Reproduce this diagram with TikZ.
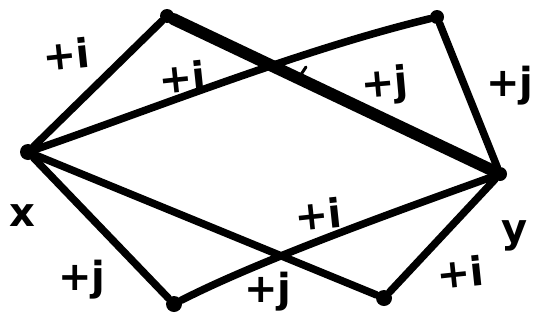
\documentclass[tikz,border=0pt]{standalone}
\usepackage{fontspec}
\setmainfont{DejaVu Sans}
\begin{document}
\begin{tikzpicture}[x=1pt,y=-1pt,
  dot/.style={circle,fill=black,inner sep=0pt,minimum size=16pt},
  edge/.style={line width=7.5pt,line cap=round},
  thickedge/.style={line width=12pt,line cap=round},
  lbl/.style={font=\bfseries\fontsize{40}{40}\selectfont,inner sep=0pt}]
\useasboundingbox (0,0) rectangle (538,335);
\node[dot] (x) at (28,152) {};
\node[dot,minimum size=14pt] (tl) at (167,16) {};
\node[dot,minimum size=14pt] (tr) at (437,17) {};
\node[dot,minimum size=14pt] (y) at (500,174) {};
\node[dot] (bl) at (174,304) {};
\node[dot] (br) at (384,298) {};
% edges
\draw[edge] (x) -- (tl);
\draw[thickedge] (tl) -- (y);
\draw[edge] (x) .. controls (150,110) and (300,50) .. (tr);
\draw[edge] (tr) -- (y);
\draw[edge] (x) -- (bl);
\draw[edge] (x) -- (br);
\draw[edge] (bl) .. controls (260,260) and (400,210) .. (y);
\draw[edge] (br) -- (y);
% small hook
\draw[line width=3pt,line cap=round,line join=round] (306,67) -- (300,76) -- (320,86);
% labels
\node[lbl,rotate=6] (l1) at (66,54) {+i};
\node[lbl,rotate=6] (l2) at (182,77) {+i};
\node[lbl,rotate=5] (l3) at (385,86) {+j};
\node[lbl] (l4) at (510,86) {+j};
\node[lbl] (l5) at (82,280) {+j};
\node[lbl] (l6) at (268,292) {+j};
\node[lbl,rotate=6] (l7) at (318,214) {+i};
\node[lbl,rotate=6] (l8) at (460,272) {+i};
\node[lbl] (lx) at (22,216) {x};
\node[lbl] (ly) at (515,236) {y};
\end{tikzpicture}
\end{document}
